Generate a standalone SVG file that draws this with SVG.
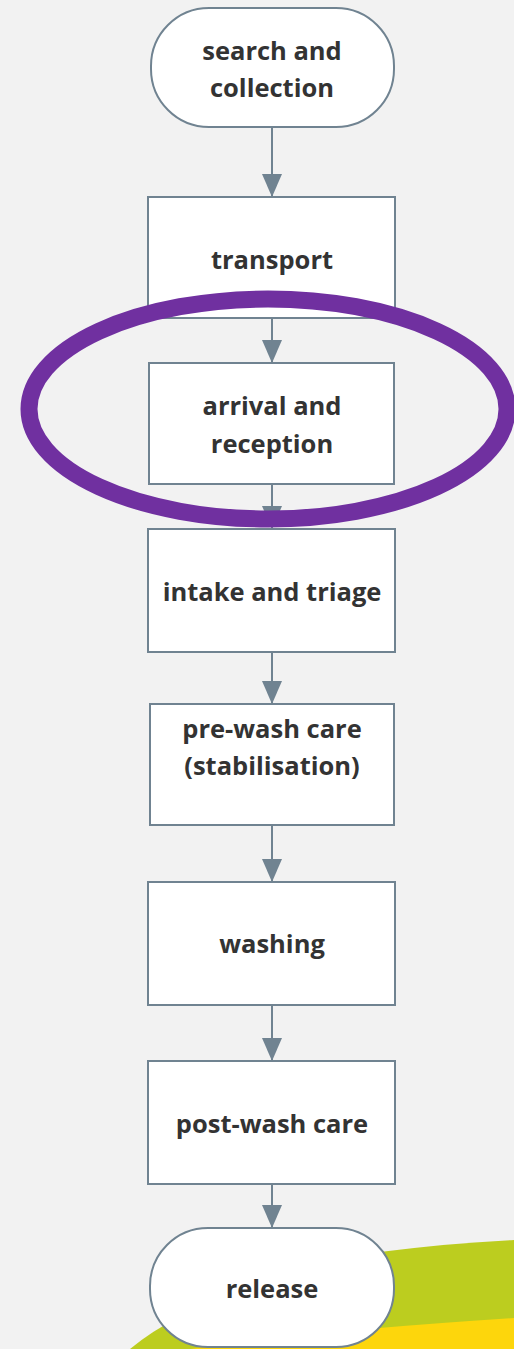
<svg xmlns="http://www.w3.org/2000/svg" width="514" height="1349" viewBox="0 0 514 1349">
<defs>
<style>
.box{fill:#ffffff;stroke:#708391;stroke-width:2}
.lbl{font-family:"Open Sans","Noto Sans",sans-serif;font-weight:700;font-size:25.5px;fill:#333333;text-anchor:middle}
.edge{stroke:#708391;stroke-width:2;fill:none;marker-end:url(#arr)}
</style>
<marker id="arr" viewBox="0 0 23 20" refX="23" refY="10" markerWidth="23" markerHeight="20" markerUnits="userSpaceOnUse" orient="auto">
<path d="M0,0 L23,10 L0,20 Z" fill="#708391"/>
</marker>
</defs>
<rect width="514" height="1349" fill="#f2f2f2"/>
<g id="decoration">
<path d="M130 1349 Q200 1290 380 1252 Q450 1243 514 1240 L514 1349 Z" fill="#bccd1f"/>
<path d="M190 1349 Q300 1332 514 1318 L514 1349 Z" fill="#fdd60c"/>
</g>
<g id="connectors">
<line class="edge" x1="272" y1="127" x2="272" y2="197"/>
<line class="edge" x1="272" y1="318" x2="272" y2="363"/>
<line class="edge" x1="272" y1="484" x2="272" y2="529"/>
<line class="edge" x1="272" y1="652" x2="272" y2="704"/>
<line class="edge" x1="272" y1="825" x2="272" y2="882"/>
<line class="edge" x1="272" y1="1005" x2="272" y2="1061"/>
<line class="edge" x1="272" y1="1184" x2="272" y2="1228"/>
</g>
<g id="n1">
<rect class="box" x="151" y="8" width="243" height="119" rx="58" ry="58"/>
<text class="lbl" x="272" y="60">search and</text>
<text class="lbl" x="272" y="97">collection</text>
</g>
<g id="n2">
<rect class="box" x="148" y="197" width="247" height="121"/>
<text class="lbl" x="272" y="269">transport</text>
</g>
<g id="n3">
<rect class="box" x="149" y="363" width="245" height="121"/>
<text class="lbl" x="272" y="415">arrival and</text>
<text class="lbl" x="272" y="453">reception</text>
</g>
<g id="n4">
<rect class="box" x="148" y="529" width="247" height="123"/>
<text class="lbl" x="272" y="601">intake and triage</text>
</g>
<g id="n5">
<rect class="box" x="150" y="704" width="244" height="121"/>
<text class="lbl" x="272" y="738">pre-wash care</text>
<text class="lbl" x="272" y="775">(stabilisation)</text>
</g>
<g id="n6">
<rect class="box" x="148" y="882" width="247" height="123"/>
<text class="lbl" x="272" y="953">washing</text>
</g>
<g id="n7">
<rect class="box" x="148" y="1061" width="247" height="123"/>
<text class="lbl" x="272" y="1133">post-wash care</text>
</g>
<g id="n8">
<rect class="box" x="150" y="1228" width="244" height="119" rx="58" ry="58"/>
<text class="lbl" x="272" y="1298">release</text>
</g>
<g id="highlight">
<ellipse cx="268" cy="409" rx="239" ry="110" fill="none" stroke="#7030a0" stroke-width="17"/>
</g>
</svg>
